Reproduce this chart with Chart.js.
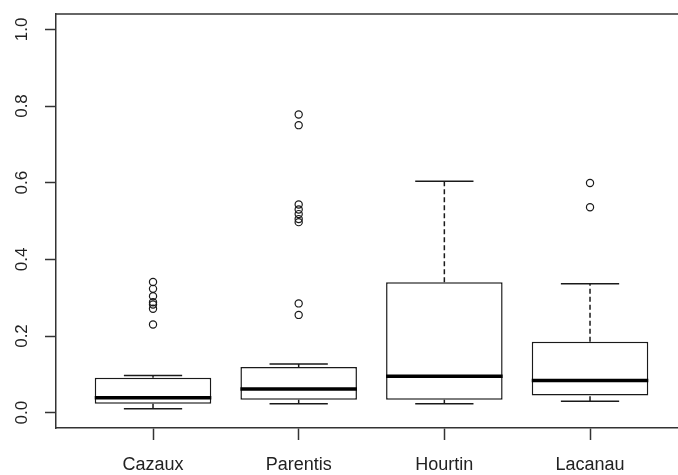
<!DOCTYPE html>
<html>
<head>
<meta charset="utf-8">
<script src="https://cdn.jsdelivr.net/npm/chart.js@4"></script>
<style>
  html, body { margin: 0; padding: 0; background: #fff; }
  #wrap { width: 678px; height: 475px; }
</style>
</head>
<body>
<div id="wrap"><canvas id="chart" width="678" height="475"></canvas></div>
<script>
// valeurs
const categories = ['Cazaux', 'Parentis', 'Hourtin', 'Lacanau'];
const lowerWhisker = [0.010, 0.023, 0.023, 0.030];
const q1 = [0.023, 0.034, 0.034, 0.045];
const medians = [0.039, 0.062, 0.095, 0.084];
const q3 = [0.091, 0.119, 0.340, 0.185];
const upperWhisker = [0.097, 0.127, 0.604, 0.336];
const outliers = [
    [0.341, 0.323, 0.304, 0.288, 0.282, 0.271, 0.230],
    [0.778, 0.750, 0.543, 0.530, 0.518, 0.505, 0.497, 0.285, 0.255],
    [],
    [0.599, 0.536]
];
const yTicks = [0, 0.2, 0.4, 0.6, 0.8, 1.0];

const boxHalf = 0.4;   // boxwex 0.8
const capHalf = 0.2;
const ink = '#1a1a1a';
const fontFamily = "'Liberation Sans', Arial, sans-serif";

// segments avec coupures (y null)
function segments(pairs) {
    const out = [];
    pairs.forEach(p => {
        out.push(p[0], p[1], { x: p[0].x, y: null });
    });
    return out;
}

const boxData = categories.map((c, i) => ({ x: i + 1, y: [q1[i], q3[i]] }));
const medianData = segments(categories.map((c, i) => [
    { x: i + 1 - boxHalf, y: medians[i] }, { x: i + 1 + boxHalf, y: medians[i] }
]));
const whiskerData = segments(categories.map((c, i) => [
    { x: i + 1, y: q3[i] }, { x: i + 1, y: upperWhisker[i] }
]).concat(categories.map((c, i) => [
    { x: i + 1, y: lowerWhisker[i] }, { x: i + 1, y: q1[i] }
])));
const capData = segments(categories.map((c, i) => [
    { x: i + 1 - capHalf, y: upperWhisker[i] }, { x: i + 1 + capHalf, y: upperWhisker[i] }
]).concat(categories.map((c, i) => [
    { x: i + 1 - capHalf, y: lowerWhisker[i] }, { x: i + 1 + capHalf, y: lowerWhisker[i] }
])));
const outlierData = [];
outliers.forEach((list, i) => list.forEach(v => outlierData.push({ x: i + 1, y: v })));

// cadre du haut + étiquettes verticales de l'axe y (style R)
const rStyle = {
    id: 'rStyle',
    afterDraw(chart) {
        const ctx = chart.ctx;
        const area = chart.chartArea;
        const yScale = chart.scales.y;
        ctx.save();
        ctx.strokeStyle = '#333';
        ctx.lineWidth = 1.5;
        ctx.beginPath();
        ctx.moveTo(area.left, area.top);
        ctx.lineTo(chart.width, area.top);
        ctx.stroke();

        ctx.fillStyle = '#222';
        ctx.font = '17px ' + fontFamily;
        ctx.textAlign = 'center';
        ctx.textBaseline = 'middle';
        yTicks.forEach(v => {
            const py = yScale.getPixelForValue(v);
            ctx.save();
            ctx.translate(22, py);
            ctx.rotate(-Math.PI / 2);
            ctx.fillText(v.toFixed(1), 0, 0);
            ctx.restore();
        });
        ctx.restore();
    }
};

new Chart(document.getElementById('chart'), {
    type: 'bar',
    data: {
        datasets: [
            {
                type: 'line',
                data: medianData,
                borderColor: '#000',
                borderWidth: 3.5,
                pointRadius: 0,
                spanGaps: false,
                order: 0
            },
            {
                type: 'bar',
                data: boxData,
                backgroundColor: '#fff',
                borderColor: ink,
                borderWidth: 1.5,
                borderSkipped: false,
                categoryPercentage: 0.8,
                barPercentage: 1.0,
                order: 1
            },
            {
                type: 'line',
                data: whiskerData,
                borderColor: ink,
                borderWidth: 1.5,
                borderDash: [5, 3],
                pointRadius: 0,
                spanGaps: false,
                order: 2
            },
            {
                type: 'line',
                data: capData,
                borderColor: ink,
                borderWidth: 1.5,
                pointRadius: 0,
                spanGaps: false,
                order: 2
            },
            {
                type: 'scatter',
                data: outlierData,
                pointStyle: 'circle',
                pointRadius: 3.6,
                pointBorderWidth: 1.2,
                pointBorderColor: ink,
                pointBackgroundColor: 'rgba(0,0,0,0)',
                order: 0
            }
        ]
    },
    options: {
        responsive: false,
        animation: false,
        layout: { autoPadding: false, padding: { top: 14, right: 0, left: 0, bottom: 0 } },
        plugins: {
            legend: { display: false },
            tooltip: { enabled: false }
        },
        scales: {
            x: {
                type: 'linear',
                min: 0.334,
                max: 4.604,
                offset: false,
                afterBuildTicks: (scale) => {
                    scale.ticks = categories.map((c, i) => ({ value: i + 1 }));
                },
                afterFit: (scale) => {
                    scale.height = 47;
                    scale.paddingLeft = 0;
                    scale.paddingRight = 0;
                },
                grid: {
                    offset: false,
                    drawOnChartArea: false,
                    drawTicks: true,
                    tickLength: 12,
                    tickWidth: 1.5,
                    tickColor: '#333'
                },
                border: { display: true, color: '#333', width: 1.5 },
                ticks: {
                    autoSkip: false,
                    maxRotation: 0,
                    padding: 14,
                    color: '#222',
                    font: { family: fontFamily, size: 18 },
                    callback: (value, index) => categories[index]
                }
            },
            y: {
                type: 'linear',
                min: -0.04,
                max: 1.04,
                afterBuildTicks: (scale) => {
                    scale.ticks = yTicks.map(v => ({ value: v }));
                },
                afterFit: (scale) => { scale.width = 56; },
                grid: {
                    drawOnChartArea: false,
                    drawTicks: true,
                    tickLength: 11,
                    tickWidth: 1.5,
                    tickColor: '#333'
                },
                border: { display: true, color: '#333', width: 1.5 },
                ticks: { display: false }
            }
        }
    },
    plugins: [rStyle]
});
</script>
</body>
</html>
